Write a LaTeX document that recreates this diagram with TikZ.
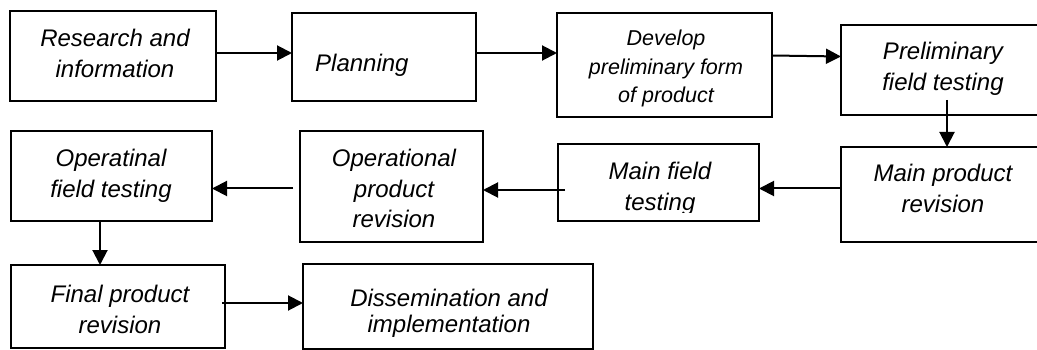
\documentclass[tikz,border=0pt]{standalone}
\usepackage{fontspec}
\setmainfont{Liberation Sans}
\usetikzlibrary{arrows.meta}
\begin{document}
\begin{tikzpicture}[x=1pt,y=-1pt,
  box/.style={draw=black,line width=2.6pt,rectangle,inner sep=0pt,outer sep=0pt},
  lbl/.style={align=center,inner sep=0pt,font=\fontsize{24}{31}\selectfont\itshape},
  small/.style={align=center,inner sep=0pt,font=\fontsize{21.5}{28.5}\selectfont\itshape},
  arr/.style={line width=2pt,-{Triangle[length=15pt,width=15pt]}}]
\fill[white] (0,0) rectangle (1037,350);
\useasboundingbox (0,0) rectangle (1037,350);
\begin{scope}
\clip (0,0) rectangle (1037,350);
% process boxes
\node[box,minimum width=206pt,minimum height=90pt]  (A) at (113,56) {};
\node[box,minimum width=184pt,minimum height=88pt]  (B) at (384,57) {};
\node[box,minimum width=215pt,minimum height=104pt] (C) at (664.5,65) {};
\node[box,minimum width=209pt,minimum height=90pt]  (D) at (945.5,70) {};
\node[box,minimum width=209pt,minimum height=95pt]  (E) at (945.5,194.5) {};
\node[box,minimum width=201pt,minimum height=77pt]  (F) at (658.5,182.5) {};
\node[box,minimum width=183pt,minimum height=111pt] (G) at (391.5,186.5) {};
\node[box,minimum width=201pt,minimum height=90pt]  (H) at (111.5,176) {};
\node[box,minimum width=214pt,minimum height=83pt]  (I) at (118,306.5) {};
\node[box,minimum width=290pt,minimum height=85pt]  (J) at (448,306.5) {};
\end{scope}
% labels (anchored on the baseline of their last line)
\node[lbl,anchor=base] (tA) at (115,77.5) {Research and\\information};
\node[lbl,anchor=base west] (tB) at (315,72) {Planning};
\node[small,anchor=base] (tC) at (666,103) {Develop\\preliminary form\\of product};
\node[lbl,anchor=base] (tD) at (943,91) {Preliminary\\field testing};
\node[lbl,anchor=base] (tE) at (943,212) {Main product\\revision};
\begin{scope}
\clip (F.north west) rectangle (759,212.5);
\node[lbl,anchor=base] (tF) at (660,211) {Main field\\testing};
\end{scope}
\node[lbl,anchor=base] (tG) at (394,228) {Operational\\product\\revision};
\node[lbl,anchor=base] (tH) at (111,197.5) {Operatinal\\field testing};
\node[lbl,anchor=base] (tI) at (120,333) {Final product\\revision};
\node[lbl,anchor=base,font=\fontsize{24}{26}\selectfont\itshape] (tJ) at (449,332) {Dissemination and\\implementation};
% connectors
\coordinate (dstart) at (947,100);
\coordinate (fin) at (565,190);
\coordinate (gout) at (293,188.5);
\coordinate (iout) at (222,303);
\draw[arr] (A.east |- 0,53) -- (B.west |- 0,53);
\draw[arr] (B.east |- 0,53) -- (C.west |- 0,53);
\draw[arr] (C.east |- 0,55.5) -- (D.west |- 0,56.5);
\draw[arr] (dstart) -- (E.north -| dstart);
\draw[arr] (E.west |- 0,188.5) -- (F.east |- 0,188.5);
\draw[arr] (fin) -- (G.east |- fin);
\draw[arr] (gout) -- (H.east |- gout);
\draw[arr] (H.south -| 100,0) -- (I.north -| 100,0);
\draw[arr] (iout) -- (J.west |- iout);
\end{tikzpicture}
\end{document}
